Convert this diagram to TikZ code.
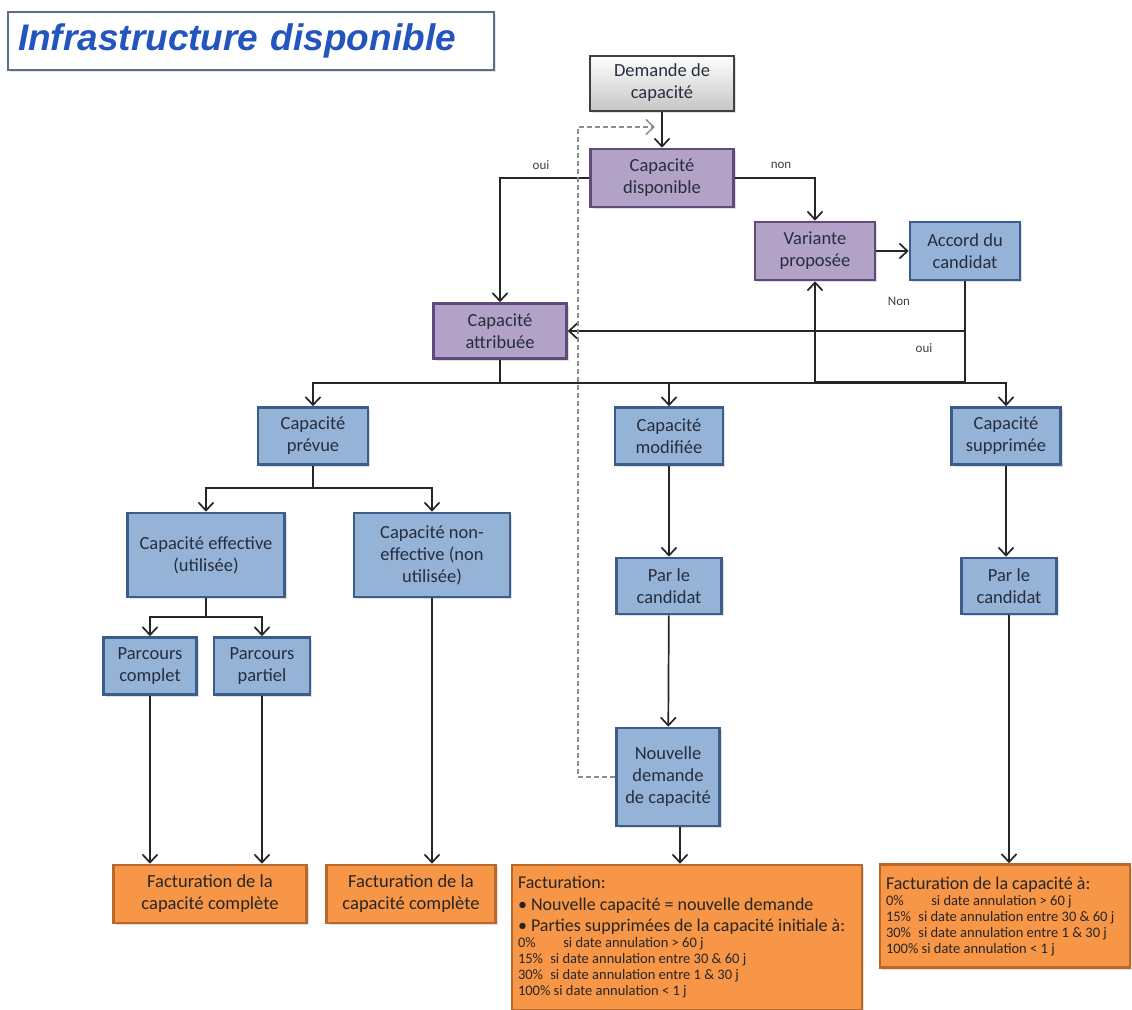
\documentclass[tikz,border=0pt]{standalone}
\usepackage{fontspec}
\setmainfont{Carlito}
\newfontfamily\titlefont{Liberation Sans}
\usetikzlibrary{arrows.meta,shadows}

\begin{document}
\begin{tikzpicture}[x=1pt, y=-1pt,
  box/.style={draw, line width=2.6pt, align=center, text=ink, inner sep=2pt,
    font=\fontsize{18.5}{22}\selectfont,
    drop shadow={shadow xshift=2pt, shadow yshift=-2pt, opacity=0.25}},
  bluebox/.style={box, fill=boxblue, draw=lineblue},
  purplebox/.style={box, fill=boxpurple, draw=linepurple},
  graybox/.style={box, top color=white, bottom color=gray!45, draw=black!75, line width=2pt},
  orangebox/.style={box, fill=boxorange, draw=lineorange, text=black!85},
  lbl/.style={font=\fontsize{13}{15}\selectfont, text=black!75},
  conn/.style={line width=1.7pt, draw=black!85, -{Straight Barb[length=8pt,width=15pt]}},
  plain/.style={line width=1.7pt, draw=black!85},
  back/.style={line width=1.5pt, draw=black!45, dashed, dash pattern=on 5pt off 3pt,
    -{Straight Barb[length=8pt,width=15pt]}}
]
  % Define colors
  \definecolor{boxblue}{RGB}{149,179,215}
  \definecolor{lineblue}{RGB}{58,93,140}
  \definecolor{boxpurple}{RGB}{179,162,199}
  \definecolor{linepurple}{RGB}{96,74,123}
  \definecolor{boxorange}{RGB}{247,150,70}
  \definecolor{lineorange}{RGB}{186,104,42}
  \definecolor{ink}{RGB}{38,45,62}
  \definecolor{titleblue}{RGB}{35,85,190}

  \useasboundingbox (0,0) rectangle (1132,1009);

  % Title
  \node[draw={rgb,255:red,95;green,110;blue,135}, line width=1.4pt, fill=white,
    minimum width=486pt, minimum height=58pt, text width=466pt, inner xsep=10pt,
    align=left, text=titleblue, font=\titlefont\bfseries\itshape\fontsize{37}{40}\selectfont,
    drop shadow={shadow xshift=2pt, shadow yshift=-2pt, opacity=0.2}]
    (title) at (251,41) {Infrastructure disponible};

  % Request and availability
  \node[graybox, minimum width=144pt, minimum height=55pt] (demande) at (662,83) {Demande de\\capacité};
  \node[purplebox, minimum width=143pt, minimum height=58pt] (dispo) at (662,178) {Capacité\\disponible};
  \node[purplebox, minimum width=120pt, minimum height=58pt] (variante) at (815,251) {Variante\\proposée};
  \node[bluebox, minimum width=110pt, minimum height=58pt] (accord) at (965,251) {Accord du\\candidat};
  \node[purplebox, minimum width=133pt, minimum height=55pt] (attribuee) at (500,331) {Capacité\\attribuée};

  % Three kinds of capacity
  \node[bluebox, minimum width=110pt, minimum height=57pt] (prevue) at (313,436) {Capacité\\prévue};
  \node[bluebox, minimum width=108pt, minimum height=57pt] (modifiee) at (669,436) {Capacité\\modifiée};
  \node[bluebox, minimum width=109pt, minimum height=57pt] (supprimee) at (1006,436) {Capacité\\supprimée};

  % Planned capacity
  \node[bluebox, minimum width=157pt, minimum height=84pt] (effective) at (206,555) {Capacité effective\\(utilisée)};
  \node[bluebox, minimum width=156pt, minimum height=84pt] (noneff) at (432,555) {Capacité non-\\effective (non\\utilisée)};
  \node[bluebox, minimum width=93pt, minimum height=57pt] (complet) at (150,666) {Parcours\\complet};
  \node[bluebox, minimum width=96pt, minimum height=57pt] (partiel) at (262,666) {Parcours\\partiel};

  % Modified and cancelled capacity
  \node[bluebox, minimum width=105pt, minimum height=56pt] (parmod) at (669,586) {Par le\\candidat};
  \node[bluebox, minimum width=95pt, minimum height=56pt] (parsup) at (1009,586) {Par le\\candidat};
  \node[bluebox, minimum width=103pt, minimum height=98pt] (nouvelle) at (668,777) {Nouvelle\\demande\\de capacité};

  % Billing
  \node[orangebox, minimum width=193pt, minimum height=58pt] (factA) at (210,894) {Facturation de la\\capacité complète};
  \node[orangebox, minimum width=169pt, minimum height=58pt] (factB) at (411,894) {Facturation de la\\capacité complète};
  \node[orangebox, text width=338pt, minimum height=145pt, align=left, inner xsep=6pt] (factC) at (687,937.5) {%
    \spaceskip=0pt\xspaceskip=0pt
    {\fontsize{18}{21.5}\selectfont Facturation:\par
    \textbullet\ Nouvelle capacité = nouvelle demande\par
    \textbullet\ Parties supprimées de la capacité initiale à:\par}
    {\fontsize{14.5}{16}\selectfont
    0\%\hspace{1.9em}si date annulation > 60 j\par
    15\%\hspace{0.5em}si date annulation entre 30 \& 60 j\par
    30\%\hspace{0.5em}si date annulation entre 1 \& 30 j\par
    100\% si date annulation < 1 j\par}};
  \node[orangebox, text width=238pt, minimum height=103pt, align=left, inner xsep=6pt] (factD) at (1005,916) {%
    \spaceskip=0pt\xspaceskip=0pt
    {\fontsize{18}{21.5}\selectfont Facturation de la capacité à:\par}
    {\fontsize{14.5}{16}\selectfont
    0\%\hspace{1.9em}si date annulation > 60 j\par
    15\%\hspace{0.5em}si date annulation entre 30 \& 60 j\par
    30\%\hspace{0.5em}si date annulation entre 1 \& 30 j\par
    100\% si date annulation < 1 j\par}};

  % Labels
  \node[lbl] (oui1) at (541,165) {oui};
  \node[lbl] (non1) at (781,165) {non};
  \node[lbl] (non2) at (899,301) {Non};
  \node[lbl] (oui2) at (924,348) {oui};

  % Junction points
  \coordinate (loopR) at (965,382);
  \coordinate (loopL) at (815,382);
  \coordinate (ouiJ) at (965,331);
  \coordinate (bus) at (500,383);
  \coordinate (splitP) at (313,488);
  \coordinate (splitE) at (206,617);
  \coordinate (dashC) at (578,127);
  \coordinate (dashEnd) at (655,127);

  % Connectors
  \draw[conn] (demande) -- (dispo);
  \draw[conn] (dispo.west) -| (attribuee.north);
  \draw[conn] (dispo.east) -| (variante.north);
  \draw[conn] (variante) -- (accord);
  \draw[plain] (accord.south) -- (loopR) -- (loopL);
  \draw[conn] (loopL) -- (variante.south);
  \draw[conn] (ouiJ) -- (attribuee.east);
  \draw[plain] (attribuee.south) -- (bus);
  \foreach \n in {prevue,modifiee,supprimee}
    \draw[conn] (bus) -| (\n.north);
  \draw[plain] (prevue.south) -- (splitP);
  \foreach \n in {effective,noneff}
    \draw[conn] (splitP) -| (\n.north);
  \draw[plain] (effective.south) -- (splitE);
  \foreach \n in {complet,partiel}
    \draw[conn] (splitE) -| (\n.north);
  \draw[conn] (complet.south) -- (complet.south |- factA.north);
  \draw[conn] (partiel.south) -- (partiel.south |- factA.north);
  \draw[conn] (noneff.south) -- (noneff.south |- factB.north);
  \draw[conn] (modifiee) -- (parmod);
  \draw[conn] (parmod) -- (nouvelle);
  \draw[conn] ([xshift=12pt]nouvelle.south) -- ([xshift=12pt]nouvelle.south |- factC.north);
  \draw[conn] (supprimee.south) -- (supprimee.south |- parsup.north);
  \draw[conn] (parsup.south) -- (parsup.south |- factD.north);

  % Back to a new request
  \draw[back] (nouvelle.west) -| (dashC) -- (dashEnd);
\end{tikzpicture}
\end{document}
